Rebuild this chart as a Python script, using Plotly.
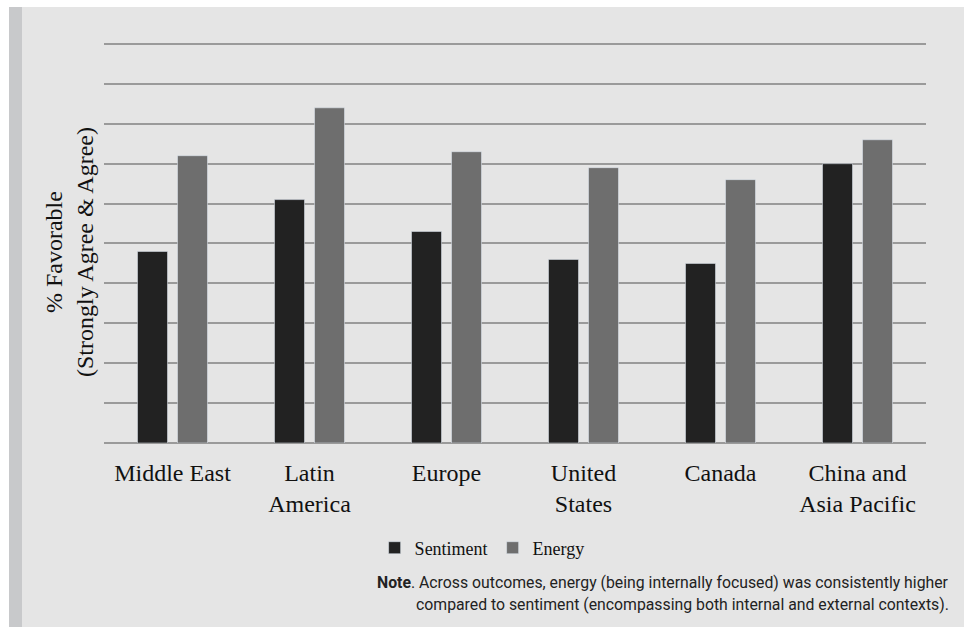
import plotly.graph_objects as go

categories = ["Middle East", "Latin<br>America", "Europe", "United<br>States", "Canada", "China and<br>Asia Pacific"]
sentiment = [48, 61, 53, 46, 45, 70]
energy = [72, 84, 73, 69, 66, 76]
y_ticks = list(range(0, 101, 10))

serif = "Liberation Serif, Times New Roman, serif"

fig = go.Figure()
fig.add_trace(go.Bar(name="Sentiment", x=categories, y=sentiment, marker_color="#222222"))
fig.add_trace(go.Bar(name="Energy", x=categories, y=energy, marker_color="#6e6e6e"))

L, R, T, B = 104, 38, 36, 184
W, H = 964, 627

fig.update_layout(
    width=W, height=H,
    margin=dict(l=L, r=R, t=T, b=B),
    paper_bgcolor="white",
    plot_bgcolor="rgba(0,0,0,0)",
    barmode="group",
    bargap=0.416,
    bargroupgap=0.25,
    showlegend=True,
    legend=dict(orientation="h", x=0.46, xanchor="center", y=-0.258, yanchor="middle",
                font=dict(family=serif, size=18, color="#111"), bgcolor="rgba(0,0,0,0)",
                traceorder="normal"),
    xaxis=dict(showgrid=False, tickfont=dict(family=serif, size=24, color="#111"),
               ticks="", showline=False, zeroline=False, ticklabelstandoff=13),
    yaxis=dict(range=[0, 102], tickvals=y_ticks, showticklabels=False, showgrid=True,
               gridcolor="#9a9a9a", gridwidth=2, zeroline=True, zerolinecolor="#9a9a9a",
               zerolinewidth=2, showline=False),
)

plot_w = W - L - R
plot_h = H - T - B
def px_x(px):
    return (px - L) / plot_w
def px_y(py):
    return (H - B - py) / plot_h

fig.layout.shapes = [
    dict(type="rect", xref="paper", yref="paper", x0=px_x(9), x1=px_x(964), y0=px_y(627), y1=px_y(7),
         layer="below", line_width=0, fillcolor="#e5e5e5"),
    dict(type="rect", xref="paper", yref="paper", x0=px_x(9), x1=px_x(22), y0=px_y(627), y1=px_y(7),
         layer="below", line_width=0, fillcolor="#c8c9cb"),
]

fig.add_annotation(xref="paper", yref="paper", x=px_x(70), y=px_y(252), xanchor="center", yanchor="middle",
                   textangle=-90, showarrow=False, align="center",
                   text="% Favorable<br>(Strongly Agree & Agree)",
                   font=dict(family=serif, size=24, color="#111"))

note_font = "Roboto, sans-serif"
fig.add_annotation(xref="paper", yref="paper", x=px_x(951), y=px_y(582), xanchor="right", yanchor="middle",
                   align="right", showarrow=False,
                   text="<b>Note</b>. Across outcomes, energy (being internally focused) was consistently higher",
                   font=dict(family=note_font, size=15.8, color="#222"))
fig.add_annotation(xref="paper", yref="paper", x=px_x(951), y=px_y(604), xanchor="right", yanchor="middle",
                   align="right", showarrow=False,
                   text="compared to sentiment (encompassing both internal and external contexts).",
                   font=dict(family=note_font, size=15.8, color="#222"))

fig.write_html("out.html")
